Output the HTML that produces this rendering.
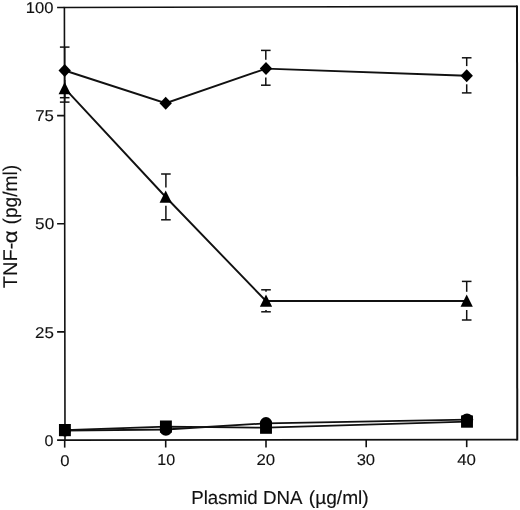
<!DOCTYPE html><html><head><meta charset="utf-8"><title>chart</title><style>html,body{margin:0;padding:0;background:#fff}svg{display:block;will-change:transform}text{text-rendering:geometricPrecision;font-family:"Liberation Sans",sans-serif;fill:#111;stroke:#111;stroke-width:0.12px}</style></head><body>
<svg width="520" height="510" viewBox="0 0 520 510">
<rect width="520" height="510" fill="#fff"/>
<polyline points="517.0,6.4 64.4,7.45 65.0,440.1 517.25,439.6" fill="none" stroke="#111" stroke-width="1.6" stroke-linejoin="miter"/>
<line x1="517.0" y1="5.6000000000000005" x2="517.25" y2="440.40000000000003" stroke="#111" stroke-width="2"/>
<line x1="57.1" x2="65.00" y1="440.12" y2="440.1" stroke="#111" stroke-width="1.6"/>
<text transform="translate(44.56,445.70) scale(1.0349,1)" font-size="15.5">0</text>
<line x1="57.1" x2="64.85" y1="331.91999999999996" y2="331.9" stroke="#111" stroke-width="1.6"/>
<text transform="translate(34.95,337.50) scale(1.0942,1)" font-size="15.5">25</text>
<line x1="57.1" x2="64.70" y1="223.82000000000002" y2="223.8" stroke="#111" stroke-width="1.6"/>
<text transform="translate(35.11,229.40) scale(1.1087,1)" font-size="15.5">50</text>
<line x1="57.1" x2="64.55" y1="115.61999999999999" y2="115.6" stroke="#111" stroke-width="1.6"/>
<text transform="translate(35.16,121.20) scale(1.0816,1)" font-size="15.5">75</text>
<line x1="57.1" x2="64.40" y1="7.47" y2="7.45" stroke="#111" stroke-width="1.6"/>
<text transform="translate(25.87,13.05) scale(1.0697,1)" font-size="15.5">100</text>
<line x1="64.7" x2="64.7" y1="440.10" y2="447.60" stroke="#111" stroke-width="1.6"/>
<text transform="translate(60.13,465.70) scale(1.0753,1)" font-size="15.5">0</text>
<line x1="165.7" x2="165.7" y1="439.99" y2="447.49" stroke="#111" stroke-width="1.6"/>
<text transform="translate(157.22,465.30) scale(1.0362,1)" font-size="15.5">10</text>
<line x1="266" x2="266" y1="439.88" y2="447.38" stroke="#111" stroke-width="1.6"/>
<text transform="translate(256.46,465.10) scale(1.0816,1)" font-size="15.5">20</text>
<line x1="366.2" x2="366.2" y1="439.77" y2="447.27" stroke="#111" stroke-width="1.6"/>
<text transform="translate(356.64,465.00) scale(1.0711,1)" font-size="15.5">30</text>
<line x1="466.7" x2="466.7" y1="439.66" y2="447.16" stroke="#111" stroke-width="1.6"/>
<text transform="translate(457.16,464.70) scale(1.0876,1)" font-size="15.5">40</text>
<line x1="64.7" x2="64.7" y1="47.1" y2="97.7" stroke="#111" stroke-width="1.5"/>
<line x1="59.900000000000006" x2="69.5" y1="47.1" y2="47.1" stroke="#111" stroke-width="1.5"/>
<line x1="59.900000000000006" x2="69.5" y1="97.7" y2="97.7" stroke="#111" stroke-width="1.5"/>
<line x1="64.7" x2="64.7" y1="80" y2="102.1" stroke="#111" stroke-width="1.5"/>
<line x1="59.900000000000006" x2="69.5" y1="102.1" y2="102.1" stroke="#111" stroke-width="1.5"/>
<line x1="165.89999999999998" x2="165.89999999999998" y1="174.0" y2="187.60" stroke="#111" stroke-width="1.5"/>
<line x1="165.89999999999998" x2="165.89999999999998" y1="205.70" y2="219.8" stroke="#111" stroke-width="1.5"/>
<line x1="161.09999999999997" x2="170.7" y1="174.0" y2="174.0" stroke="#111" stroke-width="1.5"/>
<line x1="161.09999999999997" x2="170.7" y1="219.8" y2="219.8" stroke="#111" stroke-width="1.5"/>
<line x1="265.8" x2="265.8" y1="50.4" y2="59.70" stroke="#111" stroke-width="1.5"/>
<line x1="265.8" x2="265.8" y1="77.50" y2="85.2" stroke="#111" stroke-width="1.5"/>
<line x1="261.0" x2="270.6" y1="50.4" y2="50.4" stroke="#111" stroke-width="1.5"/>
<line x1="261.0" x2="270.6" y1="85.2" y2="85.2" stroke="#111" stroke-width="1.5"/>
<line x1="266" x2="266" y1="289.8" y2="291.80" stroke="#111" stroke-width="1.5"/>
<line x1="266" x2="266" y1="310.00" y2="311.8" stroke="#111" stroke-width="1.5"/>
<line x1="261.2" x2="270.8" y1="289.8" y2="289.8" stroke="#111" stroke-width="1.5"/>
<line x1="261.2" x2="270.8" y1="311.8" y2="311.8" stroke="#111" stroke-width="1.5"/>
<line x1="466.7" x2="466.7" y1="57.8" y2="66.10" stroke="#111" stroke-width="1.5"/>
<line x1="466.7" x2="466.7" y1="84.30" y2="92.9" stroke="#111" stroke-width="1.5"/>
<line x1="461.9" x2="471.5" y1="57.8" y2="57.8" stroke="#111" stroke-width="1.5"/>
<line x1="461.9" x2="471.5" y1="92.9" y2="92.9" stroke="#111" stroke-width="1.5"/>
<line x1="466.7" x2="466.7" y1="281.4" y2="291.80" stroke="#111" stroke-width="1.5"/>
<line x1="466.7" x2="466.7" y1="310.00" y2="320" stroke="#111" stroke-width="1.5"/>
<line x1="461.9" x2="471.5" y1="281.4" y2="281.4" stroke="#111" stroke-width="1.5"/>
<line x1="461.9" x2="471.5" y1="320" y2="320" stroke="#111" stroke-width="1.5"/>
<polyline fill="none" stroke="#111" stroke-width="1.9" points="64.7,70.5 165.7,103.2 266,68.6 466.7,75.7"/>
<polyline fill="none" stroke="#111" stroke-width="1.9" points="64.7,88.4 165.7,197 266,301 466.7,301"/>
<polyline fill="none" stroke="#111" stroke-width="1.8" points="64.9,430.1 165.89999999999998,426.6 266,427.7 467.0,421.6"/>
<polyline fill="none" stroke="#111" stroke-width="1.8" points="64.9,430.6 165.89999999999998,429.5 266,423.3 467.0,419.6"/>
<path d="M58.5,70.5 L64.7,64.0 L70.9,70.5 L64.7,77.0Z" fill="#000"/>
<path d="M159.5,103.2 L165.7,96.7 L171.89999999999998,103.2 L165.7,109.7Z" fill="#000"/>
<path d="M259.8,68.6 L266,62.099999999999994 L272.2,68.6 L266,75.1Z" fill="#000"/>
<path d="M460.5,75.7 L466.7,69.2 L472.9,75.7 L466.7,82.2Z" fill="#000"/>
<path d="M58.6,94.2 L64.7,82.0 L70.8,94.2Z" fill="#000"/>
<path d="M159.6,202.8 L165.7,190.6 L171.79999999999998,202.8Z" fill="#000"/>
<path d="M259.9,306.8 L266,294.6 L272.1,306.8Z" fill="#000"/>
<path d="M460.59999999999997,306.8 L466.7,294.6 L472.8,306.8Z" fill="#000"/>
<circle cx="64.9" cy="430.6" r="5.9" fill="#000"/>
<circle cx="165.89999999999998" cy="429.5" r="6.2" fill="#000"/>
<circle cx="266" cy="423.3" r="6.2" fill="#000"/>
<circle cx="467.0" cy="419.6" r="6.2" fill="#000"/>
<rect x="58.95" y="424.0" width="11.9" height="12.2" fill="#000"/>
<rect x="159.95" y="420.5" width="11.9" height="12.2" fill="#000"/>
<rect x="260.05" y="421.59999999999997" width="11.9" height="12.2" fill="#000"/>
<rect x="461.05" y="415.5" width="11.9" height="12.2" fill="#000"/>
<text transform="translate(191.20,504.00) scale(0.9896,1)" font-size="18.9">Plasmid DNA</text>
<text transform="translate(308.75,504.00) scale(1.0143,1)" font-size="18.9">(µg/ml)</text>
<text transform="translate(17.00,288.20) rotate(-90) scale(1.0410,1.03)" font-size="19.3">TNF-</text>
<text transform="translate(17.00,243.29) rotate(-90) scale(1.1582,1.03)" font-size="19.3">α</text>
<text transform="translate(17.00,224.45) rotate(-90) scale(0.9947,1.03)" font-size="19.3">(pg/ml)</text>
</svg></body></html>
